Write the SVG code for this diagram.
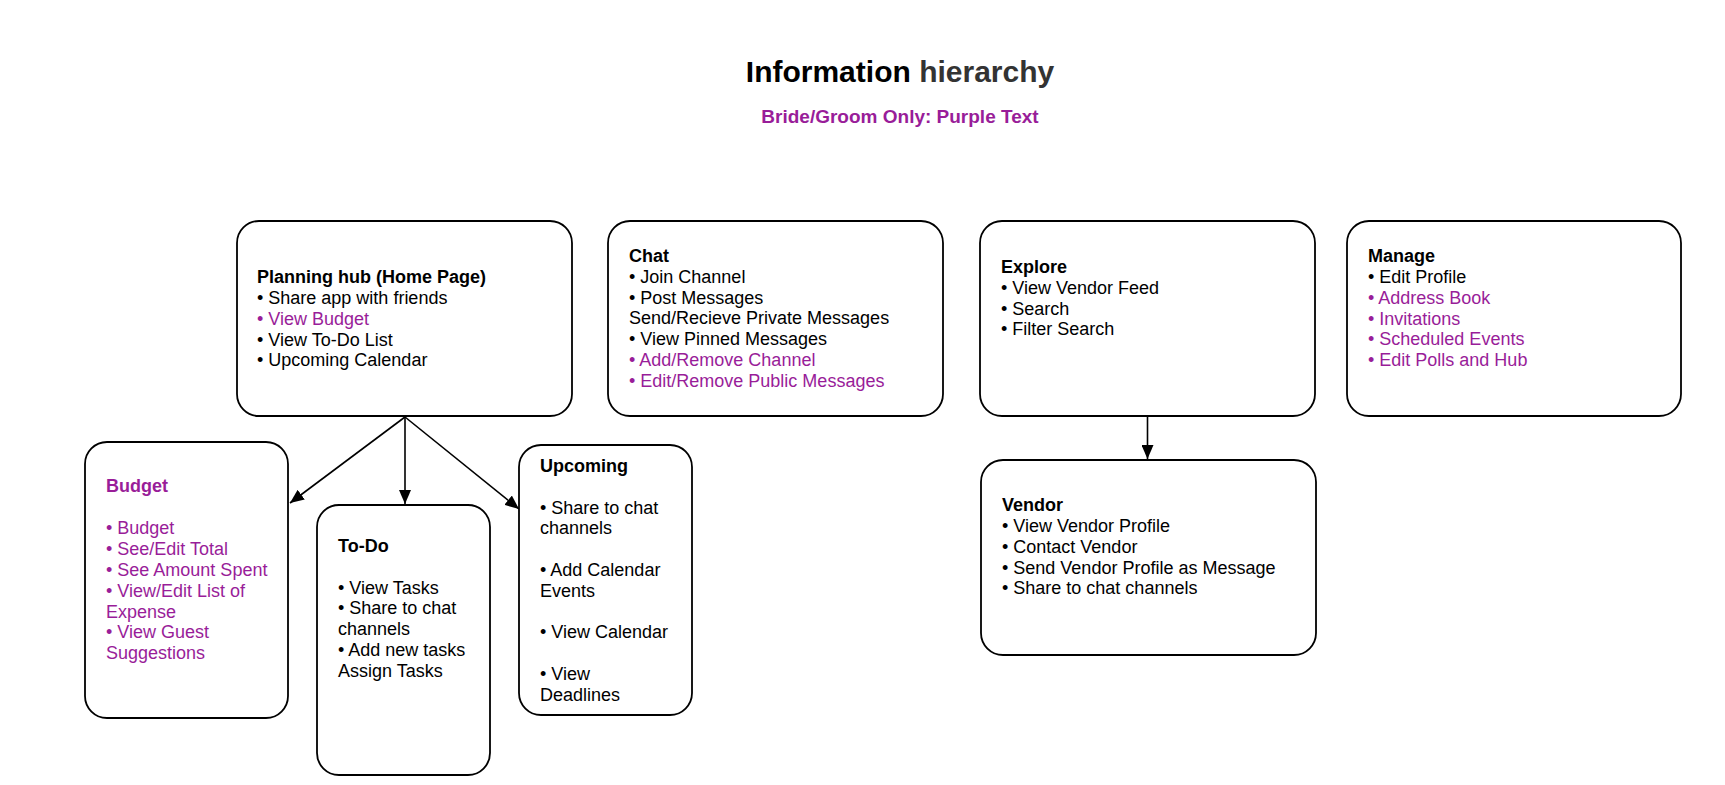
<svg xmlns="http://www.w3.org/2000/svg" width="1725" height="785" viewBox="0 0 1725 785">
<style>
.box{fill:#fff;stroke:#000;stroke-width:1.8}
text{font-family:"Liberation Sans",Arial,Helvetica,sans-serif;font-size:18px;fill:#000}
.b{font-weight:bold}
.p{fill:#991d99}
.edge{stroke:#000;stroke-width:1.6;fill:none;marker-end:url(#arr)}
</style>
<defs>
<marker id="arr" viewBox="0 0 10 10" refX="10" refY="5" markerWidth="14" markerHeight="12" markerUnits="userSpaceOnUse" orient="auto" preserveAspectRatio="none">
<path d="M0,0 L10,5 L0,10 z" fill="#000"/>
</marker>
</defs>
<rect width="1725" height="785" fill="#fff"/>
<g id="title">
<text x="900" y="82" text-anchor="middle" class="b" style="font-size:30px"><tspan fill="#000">Information </tspan><tspan fill="#333">hierarchy</tspan></text>
<text x="900" y="123" text-anchor="middle" class="b p" style="font-size:19px">Bride/Groom Only: Purple Text</text>
</g>
<g id="connectors">
<path class="edge" d="M405,417 L290,503"/>
<path class="edge" d="M405,417 L405,504"/>
<path class="edge" d="M405,417 L519,509"/>
<path class="edge" d="M1147.5,416 L1147.5,459"/>
</g>
<g id="planning">
<rect class="box" x="237" y="221" width="335" height="195" rx="22"/>
<text x="257" y="283" class="b">Planning hub (Home Page)</text>
<text x="257" y="304">• Share app with friends</text>
<text x="257" y="324.5" class="p">• View Budget</text>
<text x="257" y="345.5">• View To-Do List</text>
<text x="257" y="366">• Upcoming Calendar</text>
</g>
<g id="chat">
<rect class="box" x="608" y="221" width="335" height="195" rx="22"/>
<text x="629" y="262" class="b">Chat</text>
<text x="629" y="282.5">• Join Channel</text>
<text x="629" y="303.5">• Post Messages</text>
<text x="629" y="324">Send/Recieve Private Messages</text>
<text x="629" y="345">• View Pinned Messages</text>
<text x="629" y="366" class="p">• Add/Remove Channel</text>
<text x="629" y="386.5" class="p">• Edit/Remove Public Messages</text>
</g>
<g id="explore">
<rect class="box" x="980" y="221" width="335" height="195" rx="22"/>
<text x="1001" y="272.5" class="b">Explore</text>
<text x="1001" y="293.5">• View Vendor Feed</text>
<text x="1001" y="314.5">• Search</text>
<text x="1001" y="335">• Filter Search</text>
</g>
<g id="manage">
<rect class="box" x="1347" y="221" width="334" height="195" rx="22"/>
<text x="1368" y="262" class="b">Manage</text>
<text x="1368" y="282.5">• Edit Profile</text>
<text x="1368" y="303.5" class="p">• Address Book</text>
<text x="1368" y="324.5" class="p">• Invitations</text>
<text x="1368" y="345" class="p">• Scheduled Events</text>
<text x="1368" y="366" class="p">• Edit Polls and Hub</text>
</g>
<g id="budget">
<rect class="box" x="85" y="442" width="203" height="276" rx="22"/>
<text x="106" y="492" class="b p">Budget</text>
<text x="106" y="534" class="p">• Budget</text>
<text x="106" y="555" class="p">• See/Edit Total</text>
<text x="106" y="576" class="p">• See Amount Spent</text>
<text x="106" y="596.7" class="p">• View/Edit List of</text>
<text x="106" y="617.5" class="p">Expense</text>
<text x="106" y="638.3" class="p">• View Guest</text>
<text x="106" y="659" class="p">Suggestions</text>
</g>
<g id="todo">
<rect class="box" x="317" y="505" width="173" height="270" rx="22"/>
<text x="338" y="552" class="b">To-Do</text>
<text x="338" y="593.5">• View Tasks</text>
<text x="338" y="614.3">• Share to chat</text>
<text x="338" y="635">channels</text>
<text x="338" y="656">• Add new tasks</text>
<text x="338" y="676.7">Assign Tasks</text>
</g>
<g id="upcoming">
<rect class="box" x="519" y="445" width="173" height="270" rx="22"/>
<text x="540" y="472" class="b">Upcoming</text>
<text x="540" y="513.5">• Share to chat</text>
<text x="540" y="534.2">channels</text>
<text x="540" y="575.8">• Add Calendar</text>
<text x="540" y="596.6">Events</text>
<text x="540" y="638.2">• View Calendar</text>
<text x="540" y="679.8">• View</text>
<text x="540" y="700.6">Deadlines</text>
</g>
<g id="vendor">
<rect class="box" x="981" y="460" width="335" height="195" rx="22"/>
<text x="1002" y="511" class="b">Vendor</text>
<text x="1002" y="532">• View Vendor Profile</text>
<text x="1002" y="552.8">• Contact Vendor</text>
<text x="1002" y="573.5">• Send Vendor Profile as Message</text>
<text x="1002" y="594.2">• Share to chat channels</text>
</g>
</svg>
